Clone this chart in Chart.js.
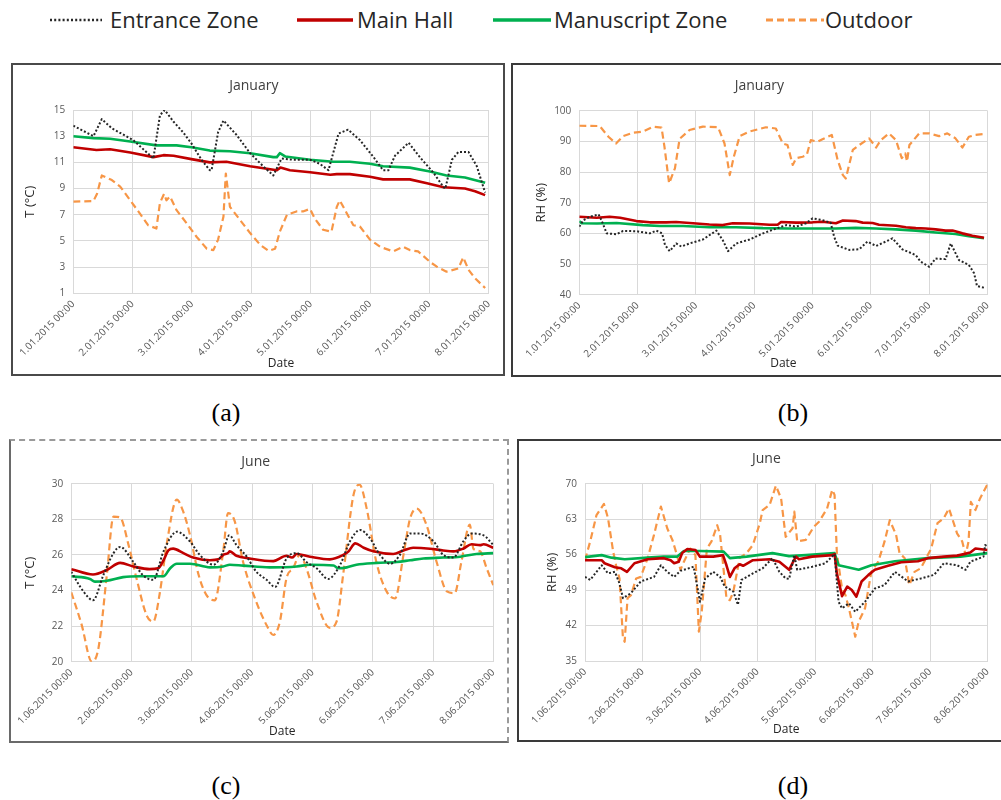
<!DOCTYPE html>
<html>
<head>
<meta charset="utf-8">
<script src="https://cdn.jsdelivr.net/npm/chart.js@4.4.1/dist/chart.umd.min.js"></script>
<style>
  html, body { margin: 0; padding: 0; background: #fff; }
  body { width: 1001px; height: 800px; overflow: hidden; position: relative; font-family: "Open Sans", sans-serif; }
  .frame { position: absolute; box-sizing: border-box; }
  canvas.panel { position: absolute; }
  .leg-line { position: absolute; top: 13px; height: 14px; }
  .leg-text { position: absolute; top: 4px; font-size: 22px; line-height: 30px; color: #262626; white-space: nowrap; }
  .cap { position: absolute; font-family: "Liberation Serif", "Times New Roman", serif; font-size: 26px; color: #000; transform: translate(-50%, -50%); }
</style>
</head>
<body>

<!-- shared legend -->
<svg class="leg-line" style="left:50px" width="52" height="14"><line x1="0" y1="7" x2="52" y2="7" stroke="#262626" stroke-width="2.5" stroke-dasharray="2 2.2"/></svg>
<span class="leg-text" style="left:110px">Entrance Zone</span>
<svg class="leg-line" style="left:297px" width="56" height="14"><line x1="0" y1="7" x2="56" y2="7" stroke="#c00000" stroke-width="3.5"/></svg>
<span class="leg-text" style="left:357px">Main Hall</span>
<svg class="leg-line" style="left:493px" width="58" height="14"><line x1="0" y1="7" x2="58" y2="7" stroke="#00b050" stroke-width="3.5"/></svg>
<span class="leg-text" style="left:554px">Manuscript Zone</span>
<svg class="leg-line" style="left:766px" width="58" height="14"><line x1="0" y1="7" x2="58" y2="7" stroke="#f79646" stroke-width="3" stroke-dasharray="7 4"/></svg>
<span class="leg-text" style="left:825px">Outdoor</span>

<!-- panel frames -->
<div class="frame" style="left:11px;top:63px;width:494px;height:313px;border:2px solid #4a4a4a"></div>
<div class="frame" style="left:511px;top:63px;width:520px;height:314px;border:2px solid #3a3a3a"></div>
<div class="frame" style="left:9px;top:439px;width:500px;height:304px;border-top:2px dashed #9a9a9a;border-right:2px dashed #9a9a9a;border-left:2px solid #6a6a6a;border-bottom:2px solid #6a6a6a"></div>
<div class="frame" style="left:517px;top:439px;width:520px;height:303px;border:2px solid #3a3a3a"></div>

<canvas class="panel" id="cA"></canvas>
<canvas class="panel" id="cB"></canvas>
<canvas class="panel" id="cC"></canvas>
<canvas class="panel" id="cD"></canvas>

<div class="cap" style="left:226px;top:413px">(a)</div>
<div class="cap" style="left:793px;top:413px">(b)</div>
<div class="cap" style="left:226px;top:786px">(c)</div>
<div class="cap" style="left:793px;top:786px">(d)</div>

<script>
// ---- x tick labels (one per day) ----
const janDays = ['1.01.2015 00:00', '2.01.2015 00:00', '3.01.2015 00:00', '4.01.2015 00:00',
                 '5.01.2015 00:00', '6.01.2015 00:00', '7.01.2015 00:00', '8.01.2015 00:00'];
const junDays = ['1.06.2015 00:00', '2.06.2015 00:00', '3.06.2015 00:00', '4.06.2015 00:00',
                 '5.06.2015 00:00', '6.06.2015 00:00', '7.06.2015 00:00', '8.06.2015 00:00'];

// ---- y tick settings ----
const tempJanTicks = [1, 15, 2];    // min, max, step
const rhJanTicks   = [40, 100, 10];
const tempJunTicks = [20, 30, 2];
const rhJunTicks   = [35, 70, 7];

const seriesNames = ['Entrance Zone', 'Main Hall', 'Manuscript Zone', 'Outdoor'];

// ---- January temperature, [day offset, °C] ----
const entranceJanT = [[0,13.8],[0.34,13.0],[0.48,14.3],[0.65,13.6],[1.01,12.7],[1.35,11.3],[1.46,14.6],[1.54,15.0],[1.69,14.1],[1.85,13.3],[1.99,12.45],[2.16,11.2],[2.30,10.4],[2.33,10.4],[2.44,13.3],[2.53,14.2],[2.75,13.1],[2.98,11.7],[3.2,10.7],[3.37,10.0],[3.51,11.3],[3.7,11.2],[3.99,11.2],[4.15,10.9],[4.30,10.4],[4.47,13.2],[4.63,13.5],[4.83,12.7],[5.06,11.4],[5.22,10.4],[5.31,10.4],[5.42,11.5],[5.65,12.5],[5.84,11.4],[6.07,10.2],[6.24,9.1],[6.27,9.0],[6.38,11.2],[6.49,11.8],[6.66,11.8],[6.80,10.7],[6.91,9.1],[6.94,8.7]];
const mainJanT = [[0,12.15],[0.39,11.95],[0.62,12.0],[0.96,11.75],[1.35,11.4],[1.52,11.55],[1.69,11.5],[1.99,11.25],[2.30,11.0],[2.58,11.05],[2.98,10.7],[3.43,10.4],[3.49,10.6],[3.65,10.4],[3.99,10.25],[4.33,10.05],[4.44,10.1],[4.66,10.1],[5.0,9.9],[5.22,9.7],[5.67,9.7],[5.96,9.4],[6.24,9.1],[6.6,9.0],[6.77,8.8],[6.94,8.5]];
const manuJanT = [[0,13.0],[0.34,12.85],[0.62,12.8],[0.96,12.6],[1.4,12.3],[1.74,12.3],[1.99,12.15],[2.30,11.9],[2.64,11.85],[2.98,11.7],[3.37,11.4],[3.43,11.4],[3.48,11.7],[3.57,11.45],[3.99,11.2],[4.38,11.05],[4.66,11.05],[5.0,10.9],[5.22,10.7],[5.67,10.6],[6.01,10.3],[6.29,10.0],[6.6,9.85],[6.94,9.45]];
const outJanT = [[0,8.0],[0.34,8.05],[0.40,8.6],[0.48,10.0],[0.65,9.65],[0.79,9.15],[0.96,8.1],[1.12,7.1],[1.26,6.2],[1.40,5.95],[1.46,7.9],[1.53,8.6],[1.57,8.1],[1.63,8.4],[1.74,7.35],[1.91,6.35],[2.08,5.3],[2.25,4.4],[2.36,4.3],[2.44,5.1],[2.53,6.85],[2.57,10.15],[2.64,7.6],[2.81,6.6],[2.98,5.6],[3.15,4.7],[3.29,4.25],[3.40,4.4],[3.48,5.7],[3.60,7.0],[3.76,7.25],[3.87,7.25],[3.99,7.45],[4.07,6.7],[4.21,5.85],[4.35,5.7],[4.44,7.6],[4.49,8.1],[4.61,7.1],[4.72,6.2],[4.83,6.1],[5.0,5.1],[5.17,4.55],[5.39,4.2],[5.56,4.55],[5.67,4.3],[5.81,4.2],[6.01,3.4],[6.12,3.05],[6.29,2.65],[6.49,2.9],[6.57,3.75],[6.66,2.8],[6.77,2.15],[6.94,1.4]];

// ---- January relative humidity, [day offset, %] ----
const entranceJanRH = [[0,62.2],[0.07,64.3],[0.18,65.4],[0.33,66.2],[0.38,64.3],[0.47,60.0],[0.64,59.7],[0.75,60.8],[0.98,60.7],[1.21,60.0],[1.32,60.9],[1.42,60.0],[1.47,56.2],[1.55,54.2],[1.66,56.7],[1.75,55.7],[1.89,56.7],[2.12,58.0],[2.35,60.9],[2.46,57.8],[2.55,54.2],[2.69,56.7],[2.92,58.0],[3.15,60.0],[3.38,61.6],[3.55,62.7],[3.72,62.2],[3.89,63.3],[4.0,64.9],[4.17,64.3],[4.31,63.5],[4.37,58.9],[4.43,56.0],[4.63,54.6],[4.80,54.8],[4.94,57.3],[5.09,55.9],[5.31,57.8],[5.37,58.4],[5.54,54.8],[5.77,52.9],[5.85,50.8],[6.0,49.1],[6.11,51.8],[6.28,51.6],[6.37,56.7],[6.51,51.3],[6.68,49.7],[6.77,47.0],[6.82,42.8],[6.94,42.3]];
const mainJanRH = [[0,65.4],[0.30,65.1],[0.52,65.4],[0.70,65.1],[0.98,64.0],[1.21,63.6],[1.49,63.6],[1.66,63.7],[1.95,63.3],[2.23,62.9],[2.46,62.7],[2.63,63.3],[2.92,63.2],[3.26,62.8],[3.40,62.8],[3.46,63.7],[3.72,63.5],[4.0,63.6],[4.17,63.8],[4.4,63.3],[4.52,64.2],[4.74,64.0],[4.86,63.5],[5.03,63.4],[5.14,62.8],[5.43,62.5],[5.6,62.0],[5.77,61.7],[5.94,61.6],[6.11,61.3],[6.28,60.9],[6.4,60.9],[6.57,60.0],[6.74,59.2],[6.94,58.6]];
const manuJanRH = [[0,64.0],[0.04,63.3],[0.3,63.2],[0.64,63.4],[1.09,62.7],[1.38,62.4],[1.78,62.4],[2.23,62.0],[2.69,62.0],[3.15,61.7],[3.60,61.6],[3.95,61.6],[4.40,61.6],[4.74,61.8],[5.09,61.6],[5.43,61.3],[5.77,60.9],[6.11,60.3],[6.45,59.8],[6.68,59.1],[6.94,58.4]];
const outJanRH = [[0,95.1],[0.35,95.0],[0.50,91.5],[0.63,89.3],[0.75,91.7],[0.92,92.8],[1.09,93.2],[1.27,94.8],[1.41,94.5],[1.46,88.3],[1.54,76.3],[1.64,81.2],[1.72,90.8],[1.89,93.7],[2.12,94.8],[2.38,94.6],[2.49,89.3],[2.58,79.0],[2.65,85.0],[2.75,91.7],[2.92,93.2],[3.20,94.6],[3.37,94.2],[3.49,89.3],[3.57,88.8],[3.66,82.3],[3.72,84.5],[3.83,85.0],[3.90,85.5],[3.97,90.4],[4.09,89.9],[4.17,90.7],[4.33,92.1],[4.43,83.9],[4.52,79.0],[4.57,77.9],[4.69,87.2],[4.80,88.8],[4.97,91.0],[5.09,88.0],[5.17,90.4],[5.31,92.6],[5.43,90.4],[5.53,84.5],[5.59,86.1],[5.62,83.4],[5.66,88.8],[5.83,92.6],[6.0,92.6],[6.17,91.7],[6.31,92.6],[6.45,91.0],[6.57,88.0],[6.68,91.5],[6.79,92.1],[6.94,92.4]];

// ---- June temperature, [day offset, °C] ----
const entranceJunT = [[0,25.05],[0.20,23.95],[0.36,23.45],[0.53,24.85],[0.70,26.1],[0.81,26.45],[1.03,25.6],[1.19,24.85],[1.36,24.6],[1.53,26.2],[1.75,27.3],[1.97,26.75],[2.13,26.0],[2.36,25.45],[2.52,26.2],[2.62,27.1],[2.74,26.55],[2.91,25.9],[3.07,25.05],[3.24,24.6],[3.38,24.2],[3.57,25.8],[3.74,26.1],[3.90,25.6],[4.07,25.25],[4.26,24.65],[4.46,25.45],[4.62,26.75],[4.79,27.4],[4.95,26.95],[5.12,26.0],[5.29,25.5],[5.45,26.0],[5.62,27.2],[5.79,27.2],[6.01,26.75],[6.17,26.0],[6.34,25.85],[6.50,26.75],[6.64,27.2],[6.84,27.1],[7.0,26.55]];
const mainJunT = [[0,25.2],[0.36,24.9],[0.59,25.15],[0.81,25.55],[1.03,25.35],[1.30,25.2],[1.44,25.25],[1.53,25.7],[1.61,26.25],[1.69,26.35],[1.86,26.1],[2.02,25.85],[2.30,25.7],[2.44,25.75],[2.52,26.0],[2.60,26.1],[2.63,26.2],[2.74,25.95],[2.96,25.8],[3.35,25.65],[3.57,25.95],[3.66,25.85],[3.74,26.05],[3.96,25.9],[4.29,25.75],[4.51,26.0],[4.60,26.2],[4.71,26.65],[4.85,26.4],[5.01,26.2],[5.34,26.05],[5.51,26.25],[5.67,26.4],[5.95,26.35],[6.17,26.25],[6.34,26.2],[6.50,26.35],[6.64,26.6],[6.78,26.55],[6.84,26.6],[7.0,26.4]];
const manuJunT = [[0,24.8],[0.31,24.65],[0.39,24.5],[0.59,24.55],[0.86,24.75],[1.14,24.8],[1.53,24.8],[1.64,25.25],[1.75,25.5],[1.97,25.5],[2.30,25.3],[2.52,25.35],[2.63,25.45],[2.85,25.4],[3.29,25.3],[3.74,25.35],[3.96,25.45],[4.35,25.4],[4.43,25.25],[4.57,25.3],[4.73,25.45],[5.07,25.55],[5.40,25.6],[5.62,25.7],[5.84,25.8],[6.17,25.85],[6.45,25.9],[6.72,26.05],[7.0,26.1]];
const outJunT = [[0,23.9],[0.17,22.1],[0.34,20.0],[0.45,20.75],[0.59,24.9],[0.70,28.15],[0.81,28.1],[0.95,26.55],[1.08,24.7],[1.25,22.6],[1.36,22.25],[1.47,23.9],[1.58,26.55],[1.75,29.1],[1.86,28.4],[1.97,27.1],[2.11,24.9],[2.24,23.75],[2.38,23.45],[2.52,26.2],[2.60,28.35],[2.71,27.9],[2.85,25.6],[3.07,23.35],[3.24,22.05],[3.35,21.5],[3.46,22.25],[3.57,24.7],[3.68,25.25],[3.79,26.0],[3.90,25.25],[4.07,23.35],[4.29,21.9],[4.40,22.25],[4.51,24.9],[4.68,29.35],[4.78,29.95],[4.90,28.6],[5.06,25.6],[5.23,23.95],[5.37,23.55],[5.51,26.0],[5.62,28.05],[5.73,28.6],[5.89,27.7],[6.06,25.6],[6.23,23.95],[6.36,23.85],[6.47,25.6],[6.61,27.7],[6.67,26.35],[6.78,26.2],[6.89,25.25],[7.0,24.3]];

// ---- June relative humidity, [day offset, %] ----
const entranceJunRH = [[0,51.6],[0.09,51.0],[0.29,53.9],[0.40,52.3],[0.52,52.6],[0.60,50.3],[0.66,47.4],[0.80,48.4],[0.97,50.7],[1.20,51.6],[1.32,53.9],[1.43,52.6],[1.55,51.6],[1.66,52.8],[1.89,53.6],[2.00,46.7],[2.09,51.3],[2.23,52.6],[2.35,51.6],[2.43,49.7],[2.58,48.7],[2.66,46.1],[2.72,51.0],[2.92,52.3],[3.09,53.3],[3.26,55.3],[3.38,52.6],[3.49,51.3],[3.55,51.2],[3.64,55.9],[3.69,53.0],[3.95,53.6],[4.18,54.3],[4.34,56.1],[4.41,46.7],[4.47,45.4],[4.59,46.4],[4.70,44.7],[4.87,46.7],[5.04,49.3],[5.21,50.0],[5.39,52.6],[5.62,50.7],[5.84,51.3],[6.07,52.0],[6.24,54.3],[6.47,53.9],[6.62,53.0],[6.70,54.6],[6.93,55.6],[6.96,57.9],[7.0,57.6]];
const mainJunRH = [[0,54.9],[0.29,54.9],[0.34,54.3],[0.52,53.5],[0.63,53.3],[0.73,52.6],[0.86,54.3],[1.09,55.1],[1.37,55.3],[1.49,54.9],[1.55,54.3],[1.63,54.6],[1.69,56.3],[1.78,57.1],[1.92,56.9],[2.00,55.6],[2.23,55.6],[2.40,55.9],[2.46,53.9],[2.52,51.6],[2.60,53.3],[2.69,54.1],[2.75,53.8],[2.92,54.9],[3.21,55.1],[3.38,54.6],[3.55,53.0],[3.62,54.6],[3.67,55.6],[3.72,55.1],[3.95,55.6],[4.30,55.9],[4.34,56.1],[4.38,52.3],[4.47,47.8],[4.56,49.7],[4.64,49.0],[4.72,47.7],[4.81,50.7],[4.93,52.0],[5.04,53.0],[5.27,53.8],[5.50,54.5],[5.79,54.7],[5.96,55.3],[6.24,55.6],[6.47,55.8],[6.59,56.1],[6.70,56.4],[6.79,57.2],[7.0,56.9]];
const manuJunRH = [[0,55.5],[0.29,55.9],[0.46,55.4],[0.69,55.1],[1.09,55.4],[1.37,55.6],[1.60,55.6],[1.72,56.7],[2.0,56.7],[2.41,56.6],[2.52,55.3],[2.81,55.6],[3.26,56.3],[3.55,55.7],[3.84,55.9],[4.34,56.3],[4.41,53.9],[4.53,53.6],[4.76,53.0],[4.98,53.9],[5.39,54.7],[5.96,55.3],[6.53,55.6],[7.0,56.3]];
const outJunRH = [[0,54.9],[0.09,58.6],[0.20,63.8],[0.33,66.0],[0.40,63.2],[0.49,56.6],[0.54,53.9],[0.60,51.3],[0.66,39.5],[0.69,38.8],[0.74,47.4],[0.80,48.0],[0.89,51.3],[0.97,51.6],[1.09,55.3],[1.20,59.9],[1.32,65.5],[1.43,61.2],[1.52,58.9],[1.60,55.9],[1.66,53.0],[1.72,54.6],[1.83,57.2],[1.92,55.9],[1.98,40.8],[2.03,44.7],[2.12,57.2],[2.20,58.6],[2.30,61.8],[2.35,59.9],[2.46,47.4],[2.52,47.0],[2.58,48.7],[2.69,55.3],[2.81,56.3],[2.92,57.9],[3.04,62.2],[3.09,64.8],[3.21,65.8],[3.32,69.6],[3.41,67.1],[3.49,59.5],[3.61,61.2],[3.64,64.5],[3.69,58.6],[3.84,58.9],[3.98,61.5],[4.07,62.5],[4.21,65.1],[4.30,68.8],[4.34,67.8],[4.38,56.3],[4.47,49.3],[4.53,48.0],[4.59,45.4],[4.70,39.8],[4.76,42.8],[4.87,45.4],[4.98,52.6],[5.10,54.6],[5.21,58.6],[5.30,62.8],[5.41,59.9],[5.47,56.3],[5.56,55.3],[5.64,50.0],[5.73,52.6],[5.84,53.3],[6.02,57.2],[6.13,62.2],[6.24,63.2],[6.33,65.1],[6.47,60.2],[6.56,58.6],[6.62,55.9],[6.67,58.6],[6.71,66.4],[6.79,64.8],[6.87,67.1],[7.0,69.9]];

// ---- drawing ----
const seriesStyles = [
  { borderColor: '#262626', borderWidth: 2,   borderDash: [2, 2] },
  { borderColor: '#c00000', borderWidth: 2.6, borderDash: [] },
  { borderColor: '#00b050', borderWidth: 2.6, borderDash: [] },
  { borderColor: '#f79646', borderWidth: 2.2, borderDash: [7, 4] }
];

const FONT = '"Open Sans", sans-serif';
const TITLE_SIZE = 14, AXIS_TITLE_X = 12, AXIS_TITLE_Y = 13, TICK_SIZE = 10;

function toPoints(pairs) { return pairs.map(p => ({ x: p[0], y: p[1] })); }

// frame: canvas rectangle; plot: chart area; tY: chart-title centre, yT: y-title centre x, xT: x-title centre y
function drawPanel(id, frame, plot, tY, yT, xT, title, yTitle, dayLabels, yTicks, series, smooth) {
  const cv = document.getElementById(id);
  cv.width = frame.w; cv.height = frame.h;
  cv.style.left = frame.x + 'px'; cv.style.top = frame.y + 'px';
  cv.style.width = frame.w + 'px'; cv.style.height = frame.h + 'px';

  const padLeft = yT - frame.x - 4 - AXIS_TITLE_Y * 1.2 / 2;
  const yWidth = plot.x0 - frame.x - padLeft;
  const padRight = frame.x + frame.w - plot.x1;
  const tPadTop = tY - frame.y - TITLE_SIZE * 1.2 / 2;
  const tPadBottom = (plot.y0 - frame.y) - tPadTop - TITLE_SIZE * 1.2;
  const xBottom = xT + AXIS_TITLE_X * 1.2 / 2 + 4;
  const padBottom = frame.y + frame.h - xBottom;
  const xHeight = xBottom - plot.y1;

  new Chart(cv, {
    type: 'line',
    data: {
      datasets: series.map((s, i) => Object.assign({
        label: seriesNames[i],
        data: toPoints(s),
        pointRadius: 0,
        fill: false,
        tension: 0,
        cubicInterpolationMode: smooth ? 'monotone' : 'default',
        borderCapStyle: 'butt',
        borderJoinStyle: 'round'
      }, seriesStyles[i]))
    },
    options: {
      responsive: false,
      animation: false,
      devicePixelRatio: 1,
      layout: { padding: { left: padLeft, right: padRight, top: 0, bottom: padBottom } },
      plugins: {
        legend: { display: false },
        tooltip: { enabled: false },
        title: {
          display: true, text: title, color: '#404040',
          font: { family: FONT, size: TITLE_SIZE, weight: 'normal' },
          padding: { top: tPadTop, bottom: tPadBottom }
        }
      },
      scales: {
        x: {
          type: 'linear', min: 0, max: dayLabels.length - 1,
          afterFit: s => { s.height = xHeight; },
          grid: { color: '#d9d9d9', drawTicks: false },
          border: { color: '#d9d9d9' },
          ticks: {
            stepSize: 1, autoSkip: false, minRotation: 45, maxRotation: 45, padding: 5,
            color: '#595959', font: { family: FONT, size: TICK_SIZE },
            callback: v => dayLabels[v]
          },
          title: { display: true, text: 'Date', color: '#262626', font: { family: FONT, size: AXIS_TITLE_X }, padding: { top: 4, bottom: 4 } }
        },
        y: {
          min: yTicks[0], max: yTicks[1],
          afterFit: s => { s.width = yWidth; },
          grid: { color: '#d9d9d9', drawTicks: false },
          border: { color: '#d9d9d9' },
          ticks: { stepSize: yTicks[2], padding: 8, color: '#595959', font: { family: FONT, size: TICK_SIZE } },
          title: { display: true, text: yTitle, color: '#262626', font: { family: FONT, size: AXIS_TITLE_Y }, padding: { top: 4, bottom: 4 } }
        }
      }
    }
  });
}

drawPanel('cA', { x: 11, y: 63, w: 494, h: 313 }, { x0: 73.3, x1: 488.7, y0: 110, y1: 293.3 },
  85.7, 30.7, 364, 'January', 'T (°C)', janDays, tempJanTicks,
  [entranceJanT, mainJanT, manuJanT, outJanT], false);

drawPanel('cB', { x: 511, y: 63, w: 490, h: 314 }, { x0: 579.3, x1: 988.7, y0: 110.7, y1: 294.7 },
  86, 541.7, 363.3, 'January', 'RH (%)', janDays, rhJanTicks,
  [entranceJanRH, mainJanRH, manuJanRH, outJanRH], false);

drawPanel('cC', { x: 9, y: 439, w: 500, h: 304 }, { x0: 71.3, x1: 493.3, y0: 483.7, y1: 661.7 },
  461.7, 30, 731.7, 'June', 'T (°C)', junDays, tempJunTicks,
  [entranceJunT, mainJunT, manuJunT, outJunT], true);

drawPanel('cD', { x: 517, y: 439, w: 484, h: 303 }, { x0: 585, x1: 992.3, y0: 483.7, y1: 661 },
  459, 552.3, 730, 'June', 'RH (%)', junDays, rhJunTicks,
  [entranceJunRH, mainJunRH, manuJunRH, outJunRH], false);
</script>
</body>
</html>
